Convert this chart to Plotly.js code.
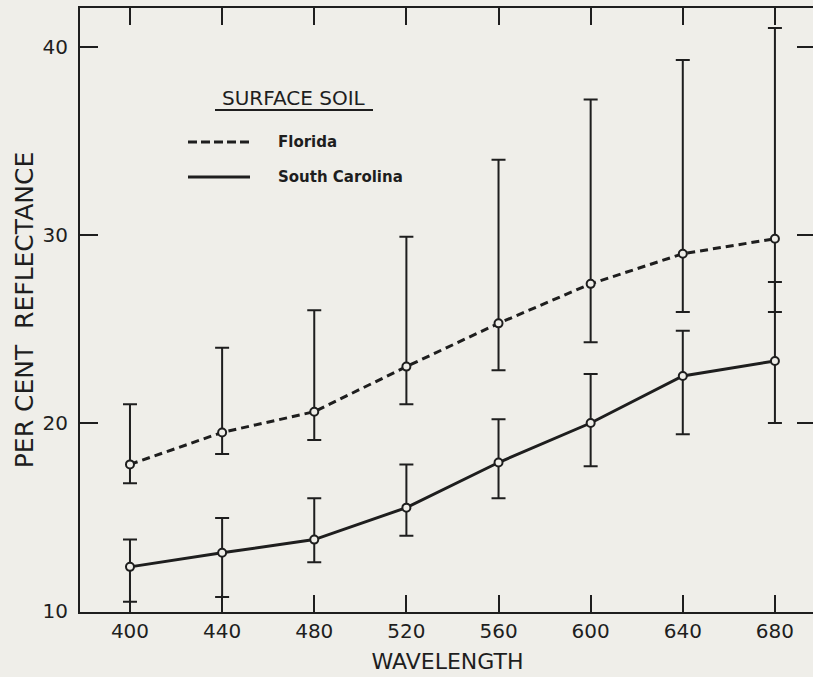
<!DOCTYPE html>
<html>
<head>
<meta charset="utf-8">
<script src="https://cdn.plot.ly/plotly-3.0.1.min.js"></script>
<style>
html,body{margin:0;padding:0;overflow:hidden;background:#efeee9;}
#chart{width:830px;height:677px;}
</style>
</head>
<body>
<div id="chart"></div>
<script>
// Data
var wavelength = [400, 440, 480, 520, 560, 600, 640, 680];
var tickValsX = [400, 440, 480, 520, 560, 600, 640, 680];
var tickValsY = [10, 20, 30, 40];

var floridaMean  = [17.8, 19.5, 20.6, 23.0, 25.3, 27.4, 29.0, 29.8];
var floridaUpper = [21.0, 24.0, 26.0, 29.9, 34.0, 37.2, 39.3, 41.0];
var floridaLower = [16.8, 18.35, 19.1, 21.0, 22.8, 24.3, 25.9, 25.9];

var scMean  = [12.35, 13.1, 13.8, 15.5, 17.9, 20.0, 22.5, 23.3];
var scUpper = [13.8, 14.95, 16.0, 17.8, 20.2, 22.6, 24.9, 27.5];
var scLower = [10.5, 10.75, 12.6, 14.0, 16.0, 17.7, 19.4, 20.0];

var INK = '#1e1e1e';
var BG = '#efeee9';

function plus(u, m){ return u.map(function(v,i){ return +(v - m[i]).toFixed(3); }); }
function minus(m, l){ return m.map(function(v,i){ return +(v - l[i]).toFixed(3); }); }

function series(name, mean, upper, lower, dash){
  return {
    type: 'scatter', mode: 'lines+markers', name: name, showlegend: false,
    x: wavelength, y: mean,
    line: {color: INK, width: 3, dash: dash},
    marker: {symbol: 'circle', size: 8, color: BG, line: {color: INK, width: 2}},
    error_y: {type: 'data', symmetric: false, array: plus(upper, mean), arrayminus: minus(mean, lower),
              color: INK, thickness: 2, width: 7}
  };
}

var traces = [
  series('Florida', floridaMean, floridaUpper, floridaLower, '8px,5px'),
  series('South Carolina', scMean, scUpper, scLower, 'solid')
];

// plot-area pixel -> paper helpers (plot area: x 80..815, y 8..612)
function px(x){ return (x - 80) / 735; }
function py(y){ return (612 - y) / 604; }

var axisFont = {family: 'DejaVu Sans, sans-serif', size: 20, color: INK};

var layout = {
  width: 830, height: 677,
  margin: {l: 80, r: 15, t: 8, b: 65},
  paper_bgcolor: BG, plot_bgcolor: BG,
  showlegend: false,
  xaxis: {
    range: [378.3, 697.4], tickmode: 'array', tickvals: tickValsX,
    ticks: 'inside', ticklen: 17, tickwidth: 2, tickcolor: INK,
    showline: true, linewidth: 2, linecolor: INK, mirror: 'ticks',
    showgrid: false, zeroline: false, tickfont: axisFont, ticklabelstandoff: 0,
    title: {text: 'WAVELENGTH', font: {family: 'DejaVu Sans, sans-serif', size: 22, color: INK}, standoff: 12}
  },
  yaxis: {
    range: [9.95, 42.07], tickmode: 'array', tickvals: tickValsY,
    ticks: 'inside', ticklen: 18, tickwidth: 2, tickcolor: INK,
    showline: true, linewidth: 2, linecolor: INK, mirror: 'ticks',
    showgrid: false, zeroline: false, tickfont: axisFont, ticklabelstandoff: 6,
    title: {text: 'PER CENT\u00A0\u00A0REFLECTANCE', font: {family: 'DejaVu Sans, sans-serif', size: 25, color: INK}, standoff: 2}
  },
  shapes: [
    {type: 'line', xref: 'paper', yref: 'paper', x0: px(215), x1: px(373), y0: py(110), y1: py(110), line: {color: INK, width: 2}},
    {type: 'line', xref: 'paper', yref: 'paper', x0: px(188), x1: px(250), y0: py(142), y1: py(142), line: {color: INK, width: 3, dash: '9px,4px'}},
    {type: 'line', xref: 'paper', yref: 'paper', x0: px(188), x1: px(250), y0: py(177), y1: py(177), line: {color: INK, width: 3}}
  ],
  annotations: [
    {xref: 'paper', yref: 'paper', x: px(220), y: py(98), xanchor: 'left', yanchor: 'middle', showarrow: false,
     text: 'SURFACE SOIL', font: {family: 'DejaVu Sans, sans-serif', size: 20, color: INK}},
    {xref: 'paper', yref: 'paper', x: px(276), y: py(142), xanchor: 'left', yanchor: 'middle', showarrow: false,
     text: '<b>Florida</b>', font: {family: 'DejaVu Sans, sans-serif', size: 15, color: INK}},
    {xref: 'paper', yref: 'paper', x: px(276), y: py(177), xanchor: 'left', yanchor: 'middle', showarrow: false,
     text: '<b>South Carolina</b>', font: {family: 'DejaVu Sans, sans-serif', size: 15, color: INK}}
  ]
};

Plotly.newPlot('chart', traces, layout, {displayModeBar: false, staticPlot: true});
</script>
</body>
</html>
